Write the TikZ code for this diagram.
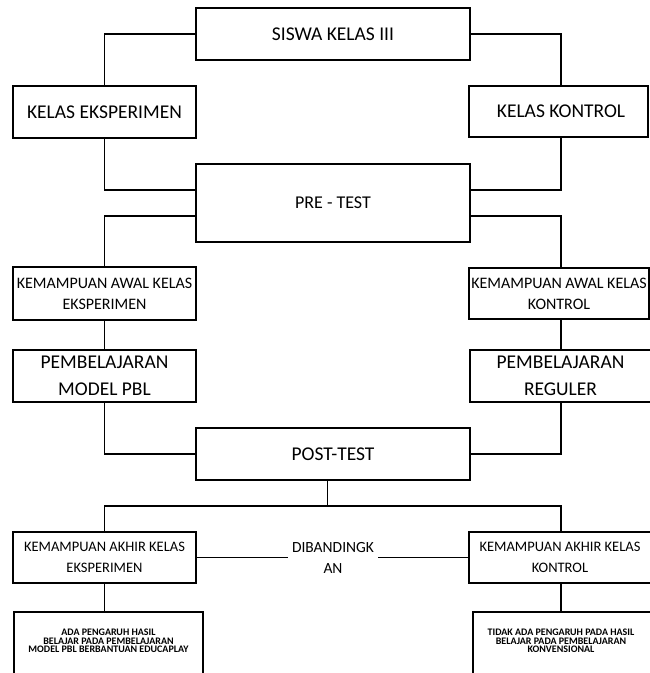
\documentclass[tikz,border=0pt]{standalone}
\usepackage{fontspec}
\setmainfont{Carlito}
\begin{document}
\begin{tikzpicture}[x=1pt,y=-1pt,
  box/.style={draw, line width=1.8pt, inner sep=0pt, align=center},
  conn/.style={line width=1.8pt},
  thinconn/.style={line width=0.9pt},
  fA/.style={font=\fontsize{19.5}{22}\selectfont},
  fP/.style={font=\fontsize{18}{22}\selectfont},
  fB/.style={font=\fontsize{16}{21}\selectfont},
  fC/.style={font=\fontsize{19.5}{27}\selectfont},
  fD/.style={font=\fontsize{14.5}{21}\selectfont},
  fE/.style={font=\fontsize{15.5}{21}\selectfont},
  fS/.style={font=\fontsize{10}{8.5}\selectfont\bfseries, align=center, inner sep=0pt}]
\useasboundingbox (0,0) rectangle (650,673);
\coordinate (R) at (561,0);
% top
\node[box, fA, minimum width=274pt, minimum height=52pt] (siswa) at (333,34) {SISWA KELAS III};
\node[box, fA, minimum width=183pt, minimum height=52pt] (keks) at (104.5,112) {KELAS EKSPERIMEN};
\node[box, fA, minimum width=179pt, minimum height=51pt] (kkon) at (558.5,111.5) {\hspace*{5pt}KELAS KONTROL};
\node[box, fP, minimum width=274pt, minimum height=78pt] (pre) at (333,203) {PRE - TEST};
% awal
\node[box, fB, minimum width=183pt, minimum height=53pt] (kaeks) at (104.5,293.5) {KEMAMPUAN AWAL KELAS\\EKSPERIMEN};
\node[box, fB, minimum width=180pt, minimum height=51pt] (kakon) at (559,293.5) {KEMAMPUAN AWAL KELAS\\KONTROL};
\node[box, fC, minimum width=183pt, minimum height=52pt] (pbl) at (104.5,376) {PEMBELAJARAN\\MODEL PBL};
\node[box, fC, minimum width=181pt, minimum height=52pt] (reg) at (560.5,376) {PEMBELAJARAN\\REGULER};
\node[box, fC, minimum width=274pt, minimum height=52pt] (post) at (333,454) {POST-TEST};
% akhir
\node[box, fD, minimum width=183pt, minimum height=51pt] (kakE) at (104.5,557.5) {KEMAMPUAN AKHIR KELAS\\EKSPERIMEN};
\node[box, fD, minimum width=182pt, minimum height=51pt] (kakK) at (560,557.5) {KEMAMPUAN AKHIR KELAS\\KONTROL};
\node[fE, align=center, inner sep=4pt] (dib) at (333,557.5) {DIBANDINGK\\AN};
% bottom
\node[box, minimum width=189pt, minimum height=64pt] (botE) at (108.5,644) {};
\node[box, minimum width=180pt, minimum height=64pt] (botK) at (563,644) {};
\node[fS] (tE) at (108.5,641) {ADA PENGARUH HASIL\\BELAJAR PADA PEMBELAJARAN\\MODEL PBL BERBANTUAN EDUCAPLAY};
\node[fS] (tK) at (561,641) {TIDAK ADA PENGARUH PADA HASIL\\BELAJAR PADA PEMBELAJARAN\\KONVENSIONAL};
% connectors
\draw[conn] (siswa.west) -| (keks.north);
\draw[conn] (siswa.east) -| (kkon.north -| R);
\draw[conn] (keks.south) |- ([yshift=13pt]pre.west);
\draw[conn] (kkon.south -| R) |- ([yshift=13pt]pre.east);
\draw[conn] ([yshift=-13pt]pre.west) -| (kaeks.north);
\draw[conn] ([yshift=-13pt]pre.east) -| (kakon.north -| R);
\draw[conn] (kaeks.south) -- (pbl.north);
\draw[conn] (kakon.south -| R) -- (reg.north -| R);
\draw[conn] (pbl.south) |- (post.west);
\draw[conn] (reg.south -| R) |- (post.east);
\coordinate (J) at (327,506);
\draw[thinconn] (post.south -| J) -- (J);
\draw[conn] (kakE.north) |- (J) -| (kakK.north -| R);
\draw[conn] (kakE.east) -- (dib.west);
\draw[conn] (dib.east) -- (kakK.west);
\draw[conn] (kakE.south) -- (kakE.south |- botE.north);
\draw[conn] (kakK.south -| R) -- (botK.north -| R);
\end{tikzpicture}
\end{document}
